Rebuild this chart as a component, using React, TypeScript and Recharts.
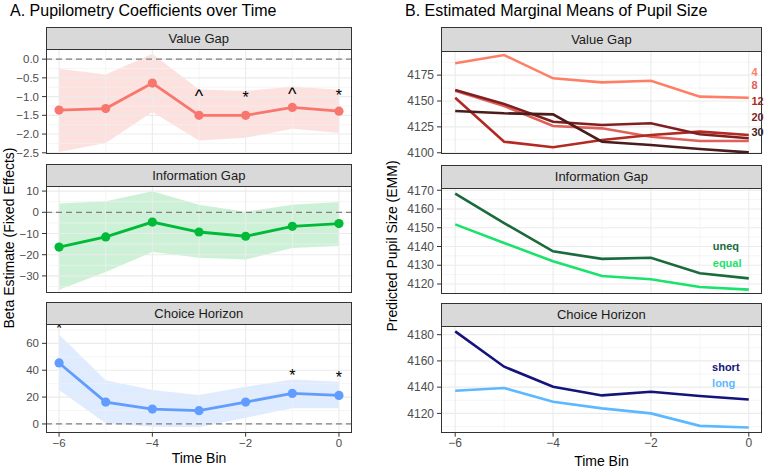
import React from 'react';
import {
  ComposedChart,
  Line,
  Area,
  XAxis,
  YAxis,
  ReferenceLine,
  ReferenceDot,
} from 'recharts';

const FONT = '"Liberation Sans", Arial, Helvetica, sans-serif';

const timeBins = [-6, -5, -4, -3, -2, -1, 0];
const xTicks = [-6, -4, -2, 0];

// A. coefficients (estimate, 95% band, significance marks)
const vgEst = [-1.36, -1.32, -0.64, -1.5, -1.5, -1.29, -1.39];
const vgLo = [-2.48, -2.24, -1.41, -2.17, -2.1, -1.86, -1.97];
const vgHi = [-0.26, -0.41, 0.14, -0.81, -0.85, -0.73, -0.82];
const vgSig = ['', '', '', '^', '*', '^', '*'];
const vgSigY = [null, null, null, -0.86, -0.93, -0.81, -0.88];

const igEst = [-16.4, -11.6, -4.6, -9.3, -11.3, -6.6, -5.3];
const igLo = [-36.5, -28.2, -18.7, -21.4, -22.3, -16.8, -15.9];
const igHi = [4.1, 5.2, 9.9, 3.6, 0.2, 3.6, 4.9];
const igSig = ['', '', '', '', '', '', ''];
const igSigY = [null, null, null, null, null, null, null];

const chEst = [45.4, 16.3, 11.1, 9.9, 16.3, 22.7, 21.2];
const chLo = [25.2, 0.5, -2.0, -2.5, 4.7, 11.6, 11.6];
const chHi = [66.6, 32.6, 25.2, 21.5, 27.7, 33.1, 31.4];
const chSig = ['*', '', '', '', '', '*', '*'];
const chSigY = [73.5, null, null, null, null, 38.7, 37];

// B. estimated marginal means
const vgLevels = ['4', '8', '12', '20', '30'];
const vgColors = ['#FF7F66', '#E0605A', '#B22A22', '#7F1F1F', '#4A1C1C'];
const vg4 = [4186.4, 4194.4, 4171.9, 4168, 4169.6, 4154.2, 4153.2];
const vg8 = [4160, 4145.2, 4125.8, 4123.6, 4115.5, 4111.4, 4111.4];
const vg12 = [4153.2, 4110.7, 4105.3, 4112.3, 4117.1, 4120.4, 4117.1];
const vg20 = [4160.6, 4147.1, 4130, 4126.8, 4128.5, 4117.8, 4114];
const vg30 = [4140.3, 4138.1, 4137.1, 4110.7, 4107.5, 4103.6, 4100.4];
const vgLabelY = [4177.7, 4165.4, 4150.3, 4134.8, 4120.4];

const igLevels = ['uneq', 'equal'];
const igColors = ['#1A6B3C', '#1AE36B'];
const igUneq = [4168.2, 4152.5, 4137.4, 4133.4, 4134, 4125.7, 4123];
const igEqual = [4151.8, 4141.9, 4132.1, 4124.3, 4122.5, 4118.4, 4117];
const igLabelY = [4140.1, 4131.4];

const chLevels = ['short', 'long'];
const chColors = ['#14147A', '#5CB8FF'];
const chShort = [4182.5, 4155.6, 4140.3, 4133.7, 4136.5, 4133.2, 4130.6];
const chLong = [4137.3, 4139.3, 4128.9, 4123.8, 4120, 4110.5, 4109.3];
const chLabelY = [4155.6, 4142.9];

const aRows = (est: number[], lo: number[], hi: number[], sig: string[], sigY: (number | null)[]) =>
  timeBins.map((t, i) => ({ t, est: est[i], ci: [lo[i], hi[i]], sig: sig[i], sigY: sigY[i] }));

const bRows = (series: number[][]) =>
  timeBins.map((t, i) => {
    const row: any = { t };
    series.forEach((s, k) => (row['s' + k] = s[i]));
    return row;
  });

const minusFmt = (digits: number) => (v: number) =>
  (v < 0 ? '\u2212' : '') + Math.abs(v).toFixed(digits);

const renderSig = (props: any) => {
  const { cx, cy, payload, index } = props;
  if (!payload || !payload.sig || cy == null || isNaN(cy)) return <g key={'s' + index} />;
  const caret = payload.sig === '^';
  return (
    <text
      key={'s' + index}
      x={cx}
      y={cy + (caret ? 11 : 9)}
      textAnchor="middle"
      fontSize={caret ? 18 : 16}
      fill="#000"
      fontFamily={FONT}
    >
      {payload.sig}
    </text>
  );
};

type FacetProps = {
  x: number;
  y: number;
  w: number;
  h: number;
  stripH: number;
  yAxisW: number;
  title: string;
  data: any[];
  domain: [number, number];
  xDomain: [number, number];
  ticks: number[];
  fmt: (v: number) => string;
  showX: boolean;
  tickFont: number;
  children: React.ReactNode;
};

const PAD = 8;

function Facet({ x, y, w, h, stripH, yAxisW, title, data, domain, xDomain, ticks, fmt, showX, tickFont, children }: FacetProps) {
  const step = ticks[1] - ticks[0];
  const minors = [ticks[0] - step / 2, ...ticks.map((t) => t + step / 2)];
  const tickStyle = { fontSize: tickFont, fill: '#4D4D4D', fontFamily: FONT };
  return (
    <>
      <div style={{ position: 'absolute', left: x - yAxisW, top: y - PAD }}>
        <ComposedChart
          width={yAxisW + w + 8}
          height={h + PAD + (showX ? 22 : PAD)}
          data={data}
          margin={{ top: PAD, right: 8, bottom: showX ? 0 : PAD, left: 0 }}
        >
          <XAxis
            type="number"
            dataKey="t"
            domain={xDomain}
            ticks={xTicks}
            interval={0}
            allowDataOverflow
            hide={!showX}
            height={22}
            tickFormatter={minusFmt(0)}
            tickSize={4}
            tickMargin={2}
            axisLine={false}
            tickLine={{ stroke: '#333333' }}
            tick={tickStyle}
          />
          <YAxis
            type="number"
            domain={domain}
            ticks={ticks}
            interval={0}
            allowDataOverflow
            width={yAxisW}
            tickFormatter={fmt}
            tickSize={4}
            tickMargin={3}
            axisLine={false}
            tickLine={{ stroke: '#333333' }}
            tick={tickStyle}
          />
          {minors.map((v) => (
            <ReferenceLine key={'my' + v} y={v} stroke="#F0F0F0" strokeWidth={0.7} />
          ))}
          {ticks.map((v) => (
            <ReferenceLine key={'My' + v} y={v} stroke="#EBEBEB" strokeWidth={1.1} />
          ))}
          {timeBins.map((v) => (
            <ReferenceLine key={'x' + v} x={v} stroke={v % 2 === 0 ? '#EBEBEB' : '#F0F0F0'} strokeWidth={v % 2 === 0 ? 1.1 : 0.7} />
          ))}
          {children}
        </ComposedChart>
      </div>
      <div
        style={{
          position: 'absolute',
          left: x,
          top: y,
          width: w,
          height: h,
          border: '1px solid #333333',
          boxSizing: 'border-box',
          pointerEvents: 'none',
        }}
      />
      <div
        style={{
          position: 'absolute',
          left: x,
          top: y - stripH,
          width: w,
          height: stripH + 1,
          background: '#D9D9D9',
          border: '1px solid #333333',
          boxSizing: 'border-box',
          display: 'flex',
          alignItems: 'center',
          justifyContent: 'center',
          fontSize: 13,
          color: '#1A1A1A',
          fontFamily: FONT,
        }}
      >
        {title}
      </div>
    </>
  );
}

function coefSeries(color: string, opacity: number) {
  return [
    <Area key="ci" dataKey="ci" type="linear" stroke="none" fill={color} fillOpacity={opacity} isAnimationActive={false} />,
    <ReferenceLine key="zero" y={0} stroke="#7F7F7F" strokeDasharray="6 4" strokeWidth={1.3} />,
    <Line
      key="est"
      dataKey="est"
      type="linear"
      stroke={color}
      strokeWidth={2.8}
      dot={{ r: 4.6, fill: color, stroke: 'none' }}
      activeDot={false}
      isAnimationActive={false}
    />,
    <Line key="sig" dataKey="sigY" stroke="none" dot={renderSig} activeDot={false} isAnimationActive={false} />,
  ];
}

function emmSeries(colors: string[], levels: string[], labelX: number, labelY: number[], anchor: 'start' | 'middle') {
  return [
    ...colors.map((c, k) => (
      <Line
        key={'l' + k}
        dataKey={'s' + k}
        type="linear"
        stroke={c}
        strokeWidth={2.6}
        dot={false}
        activeDot={false}
        isAnimationActive={false}
      />
    )),
    ...levels.map((lab, k) => (
      <ReferenceDot
        key={'t' + k}
        x={labelX}
        y={labelY[k]}
        r={0}
        fill="none"
        stroke="none"
        label={(p: any) => (
          <text
            x={p.viewBox.x}
            y={p.viewBox.y}
            dy="0.36em"
            textAnchor={anchor}
            fontSize={11}
            fontWeight="bold"
            fill={colors[k]}
            fontFamily={FONT}
          >
            {lab}
          </text>
        )}
      />
    )),
  ];
}

const textStyle: React.CSSProperties = { position: 'absolute', fontFamily: FONT, color: '#000', whiteSpace: 'nowrap' };

export default function App() {
  const aX = 45.5;
  const aW = 306.5;
  const aXDom: [number, number] = [-6.28, 0.29];
  const bX = 440.5;
  const bW = 321.8;
  const bXDom: [number, number] = [-6.29, 0.286];

  return (
    <div style={{ position: 'absolute', left: 0, top: 0, width: 767, height: 469, background: '#fff', overflow: 'hidden' }}>
      <div style={{ ...textStyle, left: 10, top: 3, fontSize: 16, lineHeight: '16px' }}>
        A. Pupilometry Coefficients over Time
      </div>
      <div style={{ ...textStyle, left: 405, top: 3, fontSize: 16, lineHeight: '16px' }}>
        B. Estimated Marginal Means of Pupil Size
      </div>

      <Facet x={aX} y={48.7} w={aW} h={105.3} stripH={22} yAxisW={46} title="Value Gap"
        data={aRows(vgEst, vgLo, vgHi, vgSig, vgSigY)} domain={[-2.54, 0.27]} xDomain={aXDom}
        ticks={[-2.5, -2, -1.5, -1, -0.5, 0]} fmt={minusFmt(1)} showX={false} tickFont={11.5}>
        {coefSeries('#F8766D', 0.22)}
      </Facet>
      <Facet x={aX} y={186} w={aW} h={107.3} stripH={22} yAxisW={46} title="Information Gap"
        data={aRows(igEst, igLo, igHi, igSig, igSigY)} domain={[-38.2, 12.4]} xDomain={aXDom}
        ticks={[-30, -20, -10, 0, 10]} fmt={minusFmt(0)} showX={false} tickFont={11.5}>
        {coefSeries('#00BA38', 0.2)}
      </Facet>
      <Facet x={aX} y={324} w={aW} h={108.7} stripH={22} yAxisW={46} title="Choice Horizon"
        data={aRows(chEst, chLo, chHi, chSig, chSigY)} domain={[-6.5, 74.4]} xDomain={aXDom}
        ticks={[0, 20, 40, 60]} fmt={minusFmt(0)} showX={true} tickFont={11.5}>
        {coefSeries('#619CFF', 0.2)}
      </Facet>

      <Facet x={bX} y={51} w={bW} h={103} stripH={24.3} yAxisW={50} title="Value Gap"
        data={bRows([vg4, vg8, vg12, vg20, vg30])} domain={[4098.8, 4198.3]} xDomain={bXDom}
        ticks={[4100, 4125, 4150, 4175]} fmt={minusFmt(0)} showX={false} tickFont={12}>
        {emmSeries(vgColors, vgLevels, 0.055, vgLabelY, 'start')}
      </Facet>
      <Facet x={bX} y={187.7} w={bW} h={106.3} stripH={22.7} yAxisW={50} title="Information Gap"
        data={bRows([igUneq, igEqual])} domain={[4114.5, 4171.2]} xDomain={bXDom}
        ticks={[4120, 4130, 4140, 4150, 4160, 4170]} fmt={minusFmt(0)} showX={false} tickFont={12}>
        {emmSeries(igColors, igLevels, -0.736, igLabelY, 'start')}
      </Facet>
      <Facet x={bX} y={326} w={bW} h={106.7} stripH={23.3} yAxisW={50} title="Choice Horizon"
        data={bRows([chShort, chLong])} domain={[4105.3, 4186.6]} xDomain={bXDom}
        ticks={[4120, 4140, 4160, 4180]} fmt={minusFmt(0)} showX={true} tickFont={12}>
        {emmSeries(chColors, chLevels, -0.75, chLabelY, 'start')}
      </Facet>

      <div style={{ ...textStyle, left: 199, top: 451, fontSize: 14, lineHeight: '14px', transform: 'translateX(-50%)' }}>
        Time Bin
      </div>
      <div style={{ ...textStyle, left: 601.5, top: 454, fontSize: 14, lineHeight: '14px', transform: 'translateX(-50%)' }}>
        Time Bin
      </div>
      <div style={{ ...textStyle, left: 9, top: 238, fontSize: 14, lineHeight: '14px', transform: 'translate(-50%, -50%) rotate(-90deg)' }}>
        Beta Estimate (Fixed Effects)
      </div>
      <div style={{ ...textStyle, left: 392, top: 246, fontSize: 14, lineHeight: '14px', transform: 'translate(-50%, -50%) rotate(-90deg)' }}>
        Predicted Pupil Size (EMM)
      </div>
    </div>
  );
}
